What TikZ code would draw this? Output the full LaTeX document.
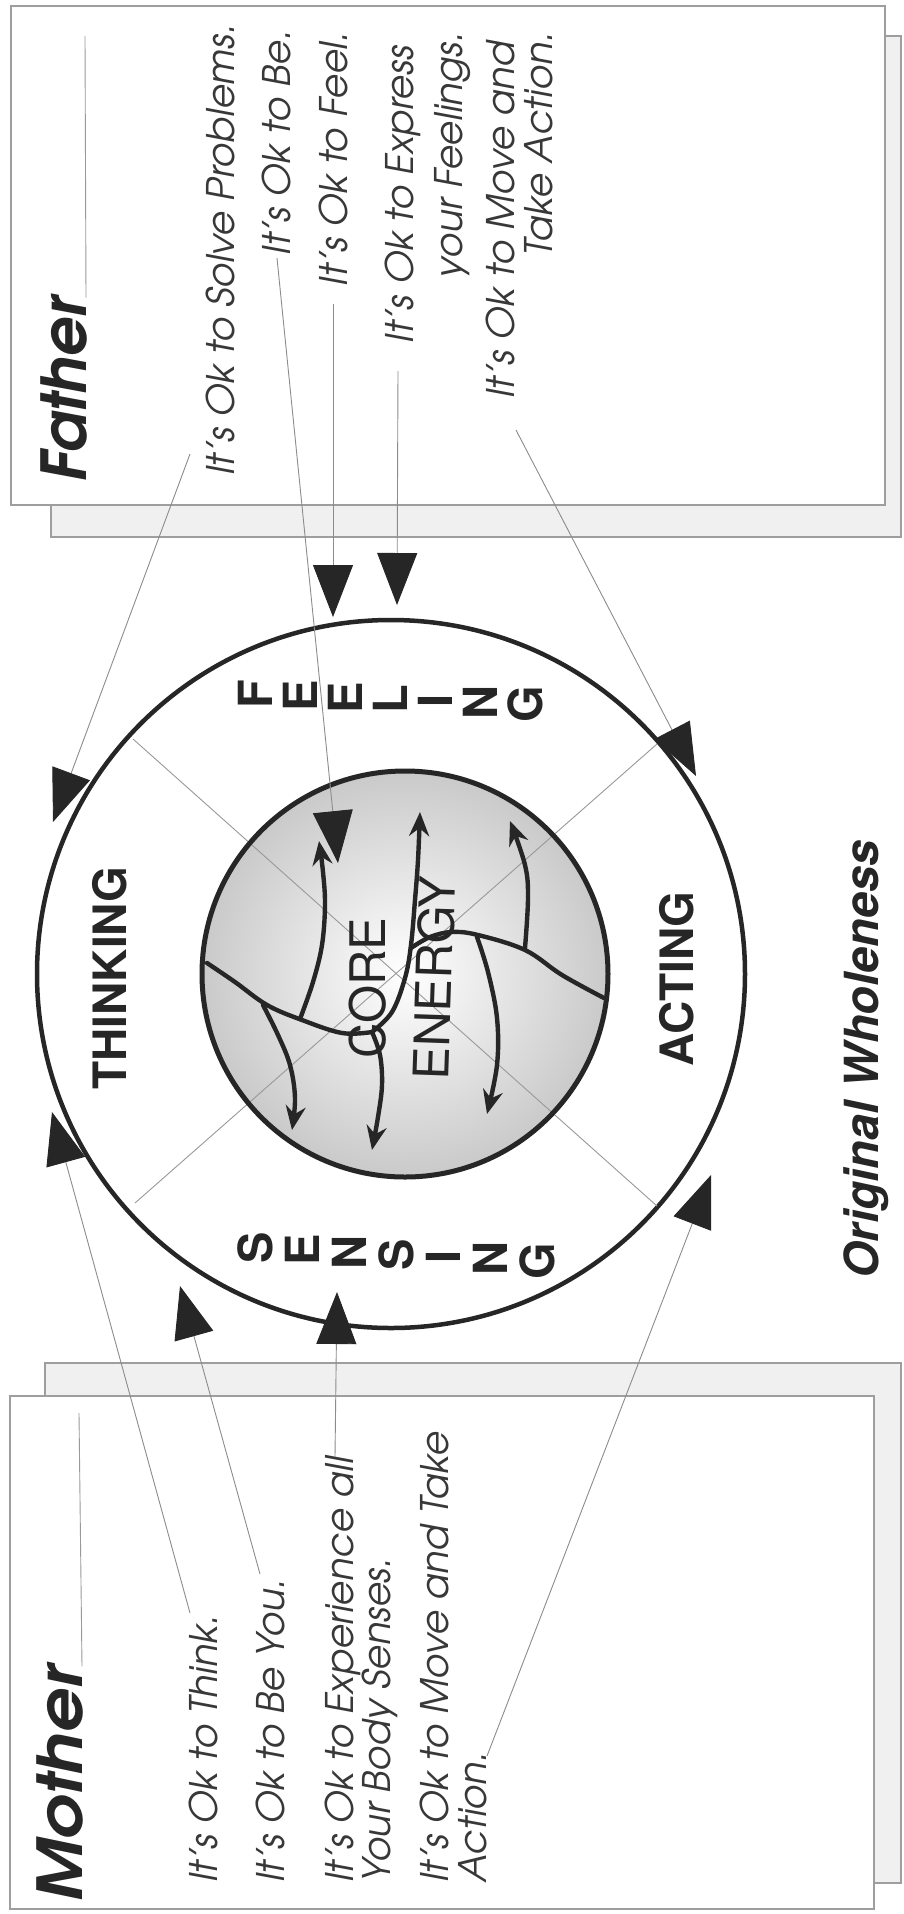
\documentclass[tikz,border=0pt]{standalone}
\usepackage{fontspec}
\usetikzlibrary{arrows.meta,calc}
\newfontfamily\adv{texgyreadventor}[Extension=.otf, UprightFont=*-regular, ItalicFont=*-italic, BoldFont=*-bold, BoldItalicFont=*-bolditalic]
\newfontfamily\heros{TeX Gyre Heros}
\tikzset{
  aff/.style={rotate=90, inner sep=0pt, text=black!78, font=\adv\itshape\fontsize{38}{38}\selectfont},
  head/.style={rotate=90, inner sep=0pt, text=black!85, font=\adv\bfseries\itshape\fontsize{62}{62}\selectfont},
  ringlbl/.style={rotate=90, inner sep=0pt, text=black!85, font=\heros\bfseries\fontsize{46}{46}\selectfont},
  letter/.style={rotate=90, inner sep=0pt, text=black!85, font=\heros\bfseries\fontsize{47}{47}\selectfont},
  corelbl/.style={inner sep=0pt, text=black!85, font=\heros\fontsize{49}{49}\selectfont},
  conn/.style={draw=black!45, line width=0.9pt, -{Triangle[length=52pt, width=40pt, color=black!85]}},
  hline/.style={draw=black!40, line width=0.9pt},
  xline/.style={draw=black!40, line width=0.9pt},
  backbox/.style={draw=black!38, fill=black!6, line width=1.3pt},
  frontbox/.style={draw=black!38, fill=white, line width=1.3pt},
  flow/.style={draw=black!85, line width=4.4pt, line cap=round},
  etip/.style={-{Stealth[length=24pt, width=20pt, inset=8pt]}},
}
\begin{document}
\begin{tikzpicture}[x=1pt, y=-1pt]
\useasboundingbox (0,0) rectangle (904,1914);
\fill[white] (0,0) rectangle (904,1914);

% boxes
\draw[backbox] (51,36) rectangle (901,537);
\draw[frontbox] (11,6) rectangle (885,505);
\draw[backbox] (45,1363) rectangle (901,1883);
\draw[frontbox] (10,1396) rectangle (874,1909);

% outer ring
\draw[line width=4.5pt, draw=black!85] (391,974) circle (354pt);
% core
\shade[inner color=white, outer color=black!21] (405,974) circle (203pt);
\draw[xline] (133,739) -- (657,1206);
\draw[xline] (657,744) -- (135,1203);
\draw[line width=5pt, draw=black!85] (405,974) circle (203pt);

% core energy flows
\draw[flow] plot[smooth, tension=0.6] coordinates {(207,963) (235,982) (267,1005) (302,1020) (342,1033) (372,1032)};
\draw[flow, etip] plot[smooth, tension=0.6] coordinates {(372,1032) (392,1012) (405,978) (411,945) (415,900) (418,860) (420,812)};
\draw[flow, etip] plot[smooth, tension=0.6] coordinates {(372,1032) (380,1055) (382,1085) (378,1117) (372,1150)};
\draw[flow] plot[smooth, tension=0.6] coordinates {(604,998) (562,975) (525,950) (478,935) (452,932) (430,937) (411,948)};
\draw[flow, etip] plot[smooth, tension=0.6] coordinates {(300,1019) (313,982) (322,945) (325,905) (323,872) (319,841)};
\draw[flow, etip] plot[smooth, tension=0.6] coordinates {(263,1005) (278,1035) (290,1065) (295,1098) (292,1130)};
\draw[flow, etip] plot[smooth, tension=0.6] coordinates {(525,948) (528,898) (525,865) (510,821)};
\draw[flow, etip] plot[smooth, tension=0.6] coordinates {(477,937) (488,972) (497,1018) (497,1065) (487,1114)};

\node[corelbl, rotate=90] (core) at (368,988) {CORE};
\node[corelbl, rotate=88] (energy) at (434,978) {ENERGY};

% ring labels
\node[ringlbl] (thinking) at (110,978) {THINKING};
\node[ringlbl] (acting) at (677,979) {ACTING};
\foreach \l [count=\i] in {F,E,E,L,I,N,G}
  \node[letter] (fe\i) at ({255+(\i-1)*45}, {694+(\i-1)*1.7}) {\l};
\foreach \l [count=\i] in {S,E,N,S,I,N,G}
  \node[letter] (se\i) at ({255+(\i-1)*47}, {1248+(\i-1)*2.2}) {\l};

% title
\node[rotate=90, inner sep=0pt, anchor=base west, text=black!85, font=\heros\bfseries\itshape\fontsize{47}{47}\selectfont] (title) at (878,1279) {Original Wholeness};

% headings
\node[head, anchor=base west] (father) at (86,483) {Father};
\node[head, anchor=base west, xscale=1.12] (mother) at (82,1903) {Mother};
\coordinate (fline) at (85,36);
\coordinate (mline) at (79,1413);
\draw[hline] (father.base east) -- (fline);
\draw[hline] (mother.base east) -- (mline);

% father texts
\node[aff, anchor=base east] (f1) at (234,24) {It’s Ok to Solve Problems.};
\node[aff, anchor=base east] (f2) at (290,30) {It’s Ok to Be.};
\node[aff, anchor=base east] (f3) at (347,32) {It’s Ok to Feel.};
\node[aff, anchor=base east] (f4a) at (413,46) {It’s Ok to Express};
\node[aff, anchor=base east] (f4b) at (462,32) {your Feelings.};
\node[aff, anchor=base east] (f5a) at (514,41) {It’s Ok to Move and};
\node[aff, anchor=base east] (f5b) at (552,32) {Take Action.};

% mother texts
\node[aff, anchor=base west] (m1) at (217,1883) {It’s Ok to Think.};
\node[aff, anchor=base west] (m2) at (284,1883) {It’s Ok to Be You.};
\node[aff, anchor=base west] (m3a) at (353,1883) {It’s Ok to Experience all};
\node[aff, anchor=base west] (m3b) at (390,1883) {Your Body Senses.};
\node[aff, anchor=base west] (m4a) at (448,1883) {It’s Ok to Move and Take};
\node[aff, anchor=base west] (m4b) at (486,1883) {Action.};

% connector ends
\coordinate (sF1) at (190,454);  \coordinate (tF1) at (53,822);
\coordinate (sF2) at (277,258);  \coordinate (tF2) at (338,863);
\coordinate (sF3) at (333,304);  \coordinate (tF3) at (333,617);
\coordinate (sF4) at (398,371);  \coordinate (tF4) at (397,605);
\coordinate (sF5) at (516,430);  \coordinate (tF5) at (696,776);
\coordinate (sM1) at (190,1613); \coordinate (tM1) at (52,1112);
\coordinate (sM2) at (260,1574); \coordinate (tM2) at (180,1286);
\coordinate (sM3) at (335,1457); \coordinate (tM3) at (337,1292);
\coordinate (sM4) at (487,1756); \coordinate (tM4) at (711,1175);

\draw[conn] (sF1) -- (tF1);
\draw[conn] (sF2) -- (tF2);
\draw[conn] (sF3) -- (tF3);
\draw[conn] (sF4) -- (tF4);
\draw[conn] (sF5) -- (tF5);
\draw[conn] (sM1) -- (tM1);
\draw[conn] (sM2) -- (tM2);
\draw[conn] (sM3) -- (tM3);
\draw[conn] (sM4) -- (tM4);
\end{tikzpicture}
\end{document}
